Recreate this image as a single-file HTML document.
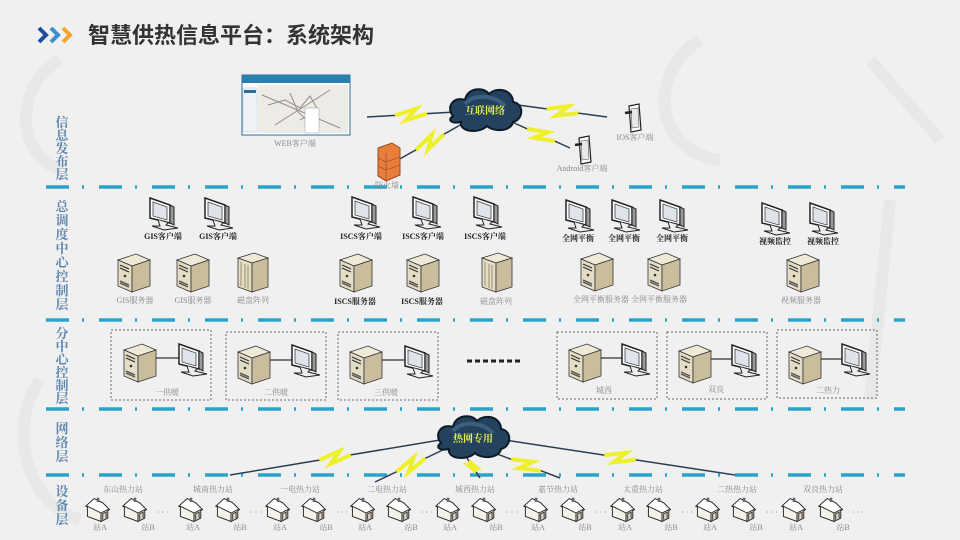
<!DOCTYPE html>
<html><head><meta charset="utf-8">
<style>
html,body{margin:0;padding:0;background:#f1f0f1;}
body{width:960px;height:540px;overflow:hidden;position:relative;font-family:"Liberation Serif","Noto Serif CJK SC",serif;}
svg{position:absolute;left:0;top:0}
.t{font-family:"Liberation Serif","Noto Serif CJK SC",serif;font-size:8px;fill:#888;text-anchor:middle}
.b{font-weight:bold;fill:#222}
.side{font-family:"Liberation Serif","Noto Serif CJK SC",serif;font-size:13px;fill:#5f86ad;font-weight:bold;text-anchor:middle}
</style></head><body>
<svg width="960" height="540" viewBox="0 0 960 540" xmlns="http://www.w3.org/2000/svg">
<defs>
 <g id="mon">
  <path d="M2,2 L22,9 L22,27 L2,22 Z" fill="#fff" stroke="#222" stroke-width="1.5"/>
  <path d="M5,6 L19,11 L19,24 L5,20 Z" fill="#dfe4ea" stroke="#444" stroke-width="0.8"/>
  <path d="M22,9 L26,11 L26,29 L22,27Z" fill="#999" stroke="#222" stroke-width="1"/>
  <path d="M10,24 L12,30 L4,30 L16,34 L30,32 L18,29 L20,27" fill="#eee" stroke="#222" stroke-width="1"/>
 </g>
 <g id="srv">
  <path d="M2,8 L20,2 L34,8 L16,14 Z" fill="#efe9d8" stroke="#333" stroke-width="0.8"/>
  <path d="M2,8 L16,14 L16,40 L2,34 Z" fill="#e4dcc4" stroke="#333" stroke-width="0.8"/>
  <path d="M16,14 L34,8 L34,34 L16,40 Z" fill="#c9bd9c" stroke="#333" stroke-width="0.8"/>
  <path d="M4,13 L13,17 M4,16 L13,20" stroke="#333" stroke-width="1.2"/>
  <circle cx="9" cy="24" r="1.3" fill="#333"/>
  <path d="M4,29 L13,33 M4,31 L13,35" stroke="#555" stroke-width="1.5"/>
 </g>
 <g id="sto">
  <path d="M2,6 L18,1 L32,6 L16,11 Z" fill="#efe9d8" stroke="#333" stroke-width="0.8"/>
  <path d="M2,6 L16,11 L16,40 L2,35 Z" fill="#e4dcc4" stroke="#333" stroke-width="0.8"/>
  <path d="M16,11 L32,6 L32,35 L16,40 Z" fill="#c9bd9c" stroke="#333" stroke-width="0.8"/>
  <path d="M5,10 L5,34 M9,12 L9,36 M12,13 L12,37" stroke="#8a7d5c" stroke-width="0.8"/>
 </g>
 <g id="house" transform="scale(0.85)">
  <path d="M2,12 L12,3 L22,8 L30,16 L20,21 Z" fill="#fff" stroke="#222" stroke-width="1.1"/>
  <path d="M4,12 L4,24 L20,30 L20,20 Z" fill="#f4f1e8" stroke="#222" stroke-width="1.1"/>
  <path d="M20,20 L28,16 L28,26 L20,30Z" fill="#ddd6c4" stroke="#222" stroke-width="1.1"/>
  <path d="M22,28 L22,21 L26,19 L26,26" fill="none" stroke="#222" stroke-width="1"/>
  <rect x="15" y="2" width="3" height="5" fill="#666"/>
 </g>
 <g id="phone">
  <path d="M4,2 L14,0 L16,26 L6,28 Z" fill="#fff" stroke="#222" stroke-width="1.2"/>
  <path d="M6,5 L13,4 L14,23 L7,24 Z" fill="#e8e8e8" stroke="#555" stroke-width="0.6"/>
  <path d="M0,9 L7,8" stroke="#222" stroke-width="2.5"/>
 </g>
 <g id="cloud">
  <path d="M-32,6 C-40,-4 -30,-14 -20,-10 C-18,-22 -2,-24 4,-16 C12,-24 28,-20 28,-8 C40,-6 38,10 28,12 C26,22 8,22 2,16 C-6,24 -26,22 -24,12 C-34,14 -38,10 -32,6Z" fill="#24415e" stroke="#0c1a28" stroke-width="2"/>
  <path d="M-20,-6 C-12,-16 8,-16 20,-4" fill="none" stroke="#4d7396" stroke-width="4" opacity=".6"/>
 </g>
</defs>

<!-- watermark (faint) -->
<g fill="none" stroke="#e9e8e9" stroke-width="12">
 <path d="M60,60 C20,80 10,150 60,170"/>
 <path d="M700,40 C650,70 650,150 720,160"/>
 <path d="M870,60 L940,140"/>
 <path d="M890,200 L870,400"/>
 <path d="M40,380 C10,420 20,500 80,520"/>
</g>

<!-- title -->
<path d="M39,28 L46,35 L39,42" fill="none" stroke="#1f4e9a" stroke-width="4"/>
<path d="M51,28 L58,35 L51,42" fill="none" stroke="#3a8fd0" stroke-width="4"/>
<path d="M63,28 L70,35 L63,42" fill="none" stroke="#f0a82a" stroke-width="4"/>
<text x="88" y="43" font-family="Liberation Sans,Noto Sans CJK SC,sans-serif" font-size="22" font-weight="bold" fill="#333">智慧供热信息平台：系统架构</text>

<!-- dash-dot lines -->
<g stroke="#2aa4cb" stroke-width="3.5" stroke-dasharray="23 13 2 15" fill="none">
 <line x1="46" y1="187" x2="905" y2="187"/>
 <line x1="46" y1="320" x2="905" y2="320"/>
 <line x1="46" y1="409" x2="905" y2="409"/>
 <line x1="46" y1="475" x2="905" y2="475"/>
</g>

<!-- side labels -->
<g class="side">
 <text x="62" y="127">信</text><text x="62" y="140">息</text><text x="62" y="153">发</text><text x="62" y="166">布</text><text x="62" y="179">层</text>
 <text x="62" y="211">总</text><text x="62" y="225">调</text><text x="62" y="239">度</text><text x="62" y="253">中</text><text x="62" y="267">心</text><text x="62" y="281">控</text><text x="62" y="295">制</text><text x="62" y="309">层</text>
 <text x="62" y="338">分</text><text x="62" y="351">中</text><text x="62" y="364">心</text><text x="62" y="377">控</text><text x="62" y="390">制</text><text x="62" y="403">层</text>
 <text x="62" y="433">网</text><text x="62" y="447">络</text><text x="62" y="461">层</text>
 <text x="62" y="496">设</text><text x="62" y="510">备</text><text x="62" y="524">层</text>
</g>

<!-- lightning -->
<g id="bolts"></g>

<!-- web screenshot -->
<rect x="242" y="75" width="108" height="60" fill="#fff" stroke="#2a6d9c" stroke-width="1"/>
<rect x="242" y="75" width="108" height="8" fill="#2a7fae"/>
<rect x="243" y="88" width="14" height="44" fill="#eef3f8" stroke="#b6c6d6" stroke-width=".5"/>
<rect x="244" y="90" width="12" height="3" fill="#2a6d9c"/>
<rect x="258" y="85" width="90" height="48" fill="#ecebe6"/>
<path d="M268,105 L285,100 L300,108 L310,96 L318,110 L300,120 M290,93 L298,112 L312,125 M262,95 L340,128 M275,125 L330,90" stroke="#9a8a8a" stroke-width="1" fill="none"/>
<rect x="305" y="108" width="14" height="25" fill="#fff" stroke="#999" stroke-width=".5"/>
<text class="t" x="295" y="146">WEB客户端</text>

<!-- firewall -->
<path d="M378,148 L392,143 L400,148 L400,175 L386,181 L378,176Z" fill="#e97e3c" stroke="#9a4a1a" stroke-width="1"/>
<path d="M386,153 L386,181 M378,158 L386,162 L400,157 M378,166 L386,170 L400,165" stroke="#a6522a" stroke-width=".8" fill="none"/>
<text class="t" x="387" y="188">防火墙</text>

<use href="#cloud" x="485" y="110"/>
<text x="485" y="114" font-size="10" font-weight="bold" fill="#e4f24a" text-anchor="middle">互联网络</text>

<use href="#phone" x="625" y="104"/>
<text class="t" x="635" y="140" font-size="7">IOS客户端</text>
<use href="#phone" x="575" y="136"/>
<text class="t" x="582" y="171" font-size="7">Android客户端</text>

<!-- row 2 monitors -->
<use href="#mon" x="148" y="196"/><use href="#mon" x="203" y="196"/>
<text class="t b" x="163" y="239">GIS客户端</text><text class="t b" x="218" y="239">GIS客户端</text>
<use href="#mon" x="350" y="195"/><use href="#mon" x="411" y="195"/><use href="#mon" x="472" y="195"/>
<text class="t b" x="361" y="239">ISCS客户端</text><text class="t b" x="423" y="239">ISCS客户端</text><text class="t b" x="485" y="239">ISCS客户端</text>
<use href="#mon" x="564" y="198"/><use href="#mon" x="610" y="198"/><use href="#mon" x="658" y="198"/>
<text class="t b" x="578" y="241">全网平衡</text><text class="t b" x="624" y="241">全网平衡</text><text class="t b" x="672" y="241">全网平衡</text>
<use href="#mon" x="760" y="201"/><use href="#mon" x="808" y="201"/>
<text class="t b" x="775" y="244">视频监控</text><text class="t b" x="823" y="244">视频监控</text>

<use href="#srv" x="116" y="252"/><use href="#srv" x="175" y="252"/><use href="#sto" x="236" y="252"/>
<text class="t" x="135" y="303">GIS服务器</text><text class="t" x="193" y="303">GIS服务器</text><text class="t" x="253" y="303">磁盘阵列</text>
<use href="#srv" x="338" y="252"/><use href="#srv" x="405" y="252"/><use href="#sto" x="480" y="252"/>
<text class="t b" x="355" y="304">ISCS服务器</text><text class="t b" x="422" y="304">ISCS服务器</text><text class="t" x="496" y="304">磁盘阵列</text>
<use href="#srv" x="579" y="251"/><use href="#srv" x="646" y="251"/>
<text class="t" x="630" y="302">全网平衡服务器 全网平衡服务器</text>
<use href="#srv" x="785" y="252"/><text class="t" x="801" y="303">视频服务器</text>

<!-- row 3 -->
<g fill="none" stroke="#667" stroke-width="1" stroke-dasharray="2 2">
 <rect x="111" y="330" width="100" height="70"/><rect x="226" y="332" width="100" height="68"/><rect x="338" y="332" width="100" height="68"/>
 <rect x="557" y="332" width="100" height="67"/><rect x="667" y="332" width="100" height="67"/><rect x="777" y="330" width="100" height="68"/>
</g>
<path d="M467,361 L522,361" stroke="#222" stroke-width="3" stroke-dasharray="5 3"/>
<g stroke="#333" stroke-width="1.3">
 <line x1="150" y1="358" x2="180" y2="358"/><line x1="265" y1="360" x2="295" y2="360"/><line x1="377" y1="360" x2="407" y2="360"/>
 <line x1="596" y1="358" x2="626" y2="358"/><line x1="706" y1="359" x2="736" y2="359"/><line x1="816" y1="359" x2="846" y2="359"/>
</g>
<use href="#srv" x="122" y="342"/><use href="#mon" x="177" y="342"/><text class="t" x="167" y="395">一供暖</text>
<use href="#srv" x="236" y="344"/><use href="#mon" x="290" y="343"/><text class="t" x="276" y="395">二供暖</text>
<use href="#srv" x="348" y="344"/><use href="#mon" x="403" y="344"/><text class="t" x="386" y="395">三供暖</text>
<use href="#srv" x="567" y="342"/><use href="#mon" x="620" y="342"/><text class="t" x="604" y="393">城西</text>
<use href="#srv" x="677" y="343"/><use href="#mon" x="730" y="343"/><text class="t" x="716" y="392">双良</text>
<use href="#srv" x="787" y="344"/><use href="#mon" x="840" y="342"/><text class="t" x="828" y="393">二热力</text>

<use href="#cloud" x="473" y="437"/>
<text x="473" y="442" font-size="10" font-weight="bold" fill="#e4f24a" text-anchor="middle">热网专用</text>

<!-- row 5 stations -->
<g class="t">
 <text x="123" y="492">东山热力站</text><text x="213" y="492">城南热力站</text><text x="300" y="492">一电热力站</text><text x="387" y="492">二电热力站</text><text x="475" y="492">城西热力站</text><text x="558" y="492">嘉节热力站</text><text x="643" y="492">太重热力站</text><text x="737" y="492">二热热力站</text><text x="823" y="492">双良热力站</text>
</g>
<g>
 <use href="#house" x="84" y="496"/><use href="#house" x="121" y="496"/>
 <use href="#house" x="177" y="496"/><use href="#house" x="214" y="496"/>
 <use href="#house" x="264" y="496"/><use href="#house" x="300" y="496"/>
 <use href="#house" x="349" y="496"/><use href="#house" x="385" y="496"/>
 <use href="#house" x="434" y="496"/><use href="#house" x="470" y="496"/>
 <use href="#house" x="522" y="496"/><use href="#house" x="559" y="496"/>
 <use href="#house" x="609" y="496"/><use href="#house" x="645" y="496"/>
 <use href="#house" x="694" y="496"/><use href="#house" x="730" y="496"/>
 <use href="#house" x="780" y="496"/><use href="#house" x="817" y="496"/>
</g>
<g class="t" font-size="7">
 <text x="100" y="530">站A</text><text x="148" y="530">站B</text>
 <text x="193" y="530">站A</text><text x="240" y="530">站B</text>
 <text x="280" y="530">站A</text><text x="326" y="530">站B</text>
 <text x="365" y="530">站A</text><text x="411" y="530">站B</text>
 <text x="450" y="530">站A</text><text x="496" y="530">站B</text>
 <text x="538" y="530">站A</text><text x="585" y="530">站B</text>
 <text x="625" y="530">站A</text><text x="671" y="530">站B</text>
 <text x="710" y="530">站A</text><text x="756" y="530">站B</text>
 <text x="796" y="530">站A</text><text x="843" y="530">站B</text>
</g>
<g font-size="8" fill="#777">
 <text x="157" y="515">· · ·</text><text x="250" y="515">· · ·</text><text x="336" y="515">· · ·</text><text x="421" y="515">· · ·</text><text x="506" y="515">· · ·</text><text x="595" y="515">· · ·</text><text x="681" y="515">· · ·</text><text x="766" y="515">· · ·</text><text x="852" y="515">· · ·</text>
</g>
</svg>
<script>
(function(){
 var g=document.getElementById('bolts'),ns='http://www.w3.org/2000/svg';
 var L=[[367,117,455,112],[398,160,462,124],[518,105,607,117],[512,122,570,148],[440,440,230,475],[447,448,375,482],[465,455,480,478],[492,452,560,478],[505,440,735,475]];
 L.forEach(function(a){
  var x1=a[0],y1=a[1],x2=a[2],y2=a[3],dx=x2-x1,dy=y2-y1,len=Math.hypot(dx,dy),ux=dx/len,uy=dy/len,px=-uy,py=ux;
  var s=Math.min(8,len*0.12);
  function p(t,o){return (x1+dx*t+px*o).toFixed(1)+','+(y1+dy*t+py*o).toFixed(1);}
  var m=0.5,h=s/len;
  var zig=[p(m-h*2,0),p(m+h*0.7,-s*0.7),p(m-h*0.7,s*0.7),p(m+h*2,0)].join(' ');
  var l=document.createElementNS(ns,'polyline');
  l.setAttribute('points',p(0,0)+' '+zig+' '+p(1,0));
  l.setAttribute('fill','none');l.setAttribute('stroke','#2c3e55');l.setAttribute('stroke-width','1.5');
  g.appendChild(l);
  var y=document.createElementNS(ns,'polyline');
  y.setAttribute('points',zig);y.setAttribute('fill','none');y.setAttribute('stroke','#eef02a');y.setAttribute('stroke-width','4');
  g.appendChild(y);
 });
})();
</script>
</body></html>
